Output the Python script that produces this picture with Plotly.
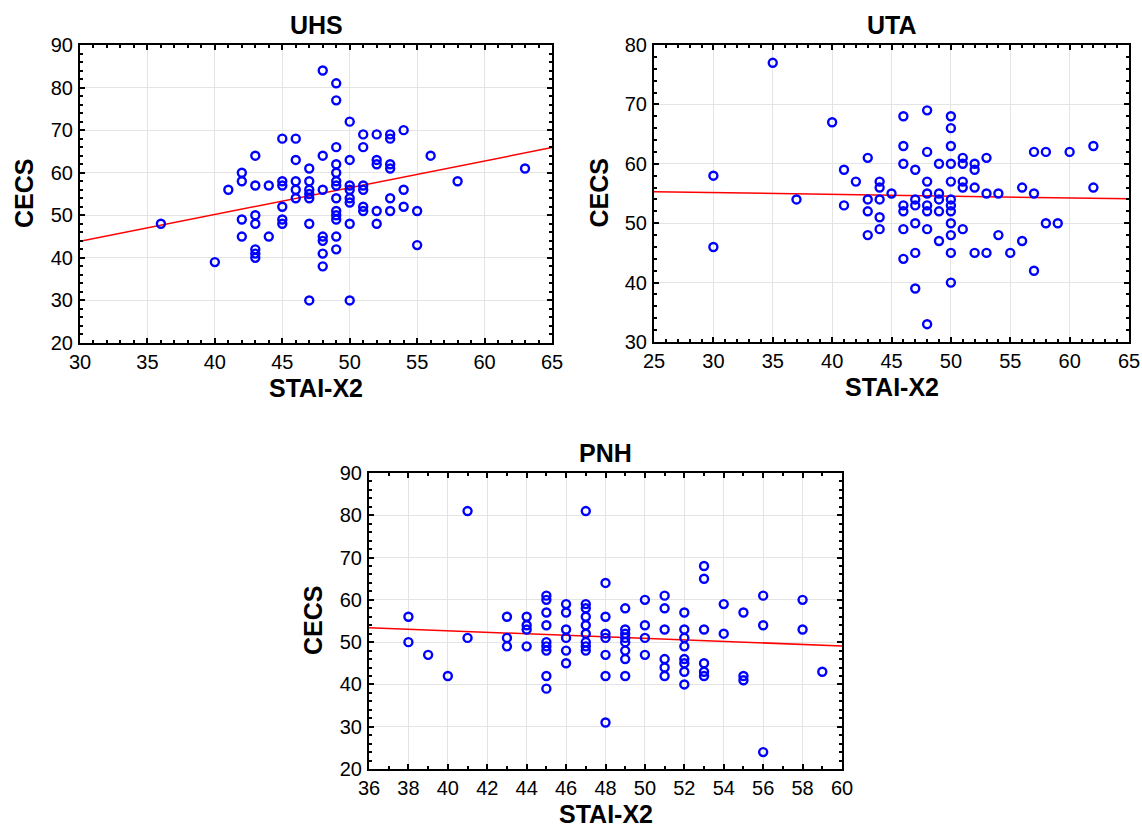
import plotly.graph_objects as go

W, H = 1142, 835

# ---------------- data ----------------
uhs_x = [36, 40, 41, 42, 42, 42, 42,
         43, 43, 43, 43, 43, 43, 43,
         44, 44,
         45, 45, 45, 45, 45, 45,
         46, 46, 46, 46, 46,
         47, 47, 47, 47, 47, 47, 47,
         48, 48, 48, 48, 48, 48, 48,
         49, 49, 49, 49, 49, 49, 49, 49, 49, 49, 49, 49, 49,
         50, 50, 50, 50, 50, 50, 50, 50,
         51, 51, 51, 51, 51, 51,
         52, 52, 52, 52, 52,
         53, 53, 53, 53, 53, 53,
         54, 54, 54,
         55, 55, 56, 58, 63]
uhs_y = [48, 39, 56, 60, 58, 49, 45,
         64, 57, 50, 48, 42, 41, 40,
         57, 45,
         68, 58, 57, 52, 49, 48,
         68, 63, 58, 56, 54,
         61, 58, 56, 55, 54, 48, 30,
         84, 64, 56, 45, 44, 41, 38,
         81, 77, 66, 62, 60, 58, 57, 54, 51, 50, 49, 45, 42,
         72, 63, 57, 56, 54, 53, 48, 30,
         69, 66, 57, 56, 52, 51,
         69, 63, 62, 51, 48,
         69, 68, 62, 61, 54, 51,
         70, 56, 52,
         51, 43, 64, 58, 61]
uhs_fit_x = [30, 65]
uhs_fit_y = [43.9, 65.9]

uta_x = [30, 30, 35, 37, 40, 41, 41, 42,
         43, 43, 43, 43,
         44, 44, 44, 44, 44,
         45,
         46, 46, 46, 46, 46, 46, 46,
         47, 47, 47, 47, 47, 47,
         48, 48, 48, 48, 48, 48, 48, 48,
         49, 49, 49, 49, 49,
         50, 50, 50, 50, 50, 50, 50, 50, 50, 50, 50, 50,
         51, 51, 51, 51, 51,
         52, 52, 52, 52,
         53, 53, 53,
         54, 54, 55, 56, 56,
         57, 57, 57, 58, 58, 59, 60, 62, 62]
uta_y = [58, 46, 77, 54, 67, 59, 53, 57,
         61, 54, 52, 48,
         57, 56, 54, 51, 49,
         55,
         68, 63, 60, 53, 52, 49, 44,
         59, 54, 53, 50, 45, 39,
         69, 62, 57, 55, 53, 52, 49, 33,
         60, 55, 54, 52, 47,
         68, 66, 63, 60, 57, 54, 53, 52, 50, 48, 45, 40,
         61, 60, 57, 56, 49,
         60, 59, 56, 45,
         61, 55, 45,
         55, 48, 45, 56, 47,
         62, 55, 42, 62, 50, 50, 62, 63, 56]
uta_fit_x = [25, 65]
uta_fit_y = [55.3, 54.1]

pnh_x = [38, 38, 39, 40, 41, 41,
         43, 43, 43,
         44, 44, 44, 44,
         45, 45, 45, 45, 45, 45, 45, 45, 45,
         46, 46, 46, 46, 46, 46,
         47, 47, 47, 47, 47, 47, 47, 47, 47,
         48, 48, 48, 48, 48, 48, 48,
         49, 49, 49, 49, 49, 49, 49, 49,
         50, 50, 50, 50,
         51, 51, 51, 51, 51, 51,
         52, 52, 52, 52, 52, 52, 52, 52,
         53, 53, 53, 53, 53, 53,
         54, 54, 55, 55, 55,
         56, 56, 56, 58, 58, 59]
pnh_y = [56, 50, 47, 42, 81, 51,
         56, 51, 49,
         56, 54, 53, 49,
         61, 60, 57, 54, 50, 49, 48, 42, 39,
         59, 57, 53, 51, 48, 45,
         81, 59, 58, 56, 54, 52, 50, 49, 48,
         64, 56, 52, 51, 47, 42, 31,
         58, 53, 52, 51, 50, 48, 46, 42,
         60, 54, 51, 47,
         61, 58, 53, 46, 44, 42,
         57, 53, 51, 49, 46, 45, 43, 40,
         68, 65, 53, 45, 43, 42,
         59, 52, 57, 42, 41,
         61, 54, 24, 60, 53, 43]
pnh_fit_x = [36, 60]
pnh_fit_y = [53.4, 49.1]

panels = [
    dict(name="UHS", x=uhs_x, y=uhs_y, fx=uhs_fit_x, fy=uhs_fit_y,
         xr=[30, 65], xd=5, xm=1, yr=[20, 90], yd=10, ym=2,
         px=(80, 552), py=(45, 343)),
    dict(name="UTA", x=uta_x, y=uta_y, fx=uta_fit_x, fy=uta_fit_y,
         xr=[25, 65], xd=5, xm=1, yr=[30, 80], yd=10, ym=2,
         px=(654, 1129), py=(45, 342)),
    dict(name="PNH", x=pnh_x, y=pnh_y, fx=pnh_fit_x, fy=pnh_fit_y,
         xr=[36, 60], xd=2, xm=1, yr=[20, 90], yd=10, ym=2,
         px=(369, 842), py=(473, 769)),
]

FONT = "Liberation Sans, Arial, sans-serif"
fig = go.Figure()
annotations = []

for i, p in enumerate(panels, start=1):
    xa = "x" if i == 1 else f"x{i}"
    ya = "y" if i == 1 else f"y{i}"
    fig.add_trace(go.Scatter(
        x=p["fx"], y=p["fy"], mode="lines", xaxis=xa, yaxis=ya,
        line=dict(color="#FF0000", width=1.5), showlegend=False))
    fig.add_trace(go.Scatter(
        x=p["x"], y=p["y"], mode="markers", xaxis=xa, yaxis=ya,
        marker=dict(symbol="circle-open", size=8, color="#0000FF",
                    line=dict(width=2.4, color="#0000FF")),
        showlegend=False, cliponaxis=False))

    x0, x1 = p["px"]
    y0, y1 = p["py"]
    dom_x = [x0 / W, x1 / W]
    dom_y = [1 - y1 / H, 1 - y0 / H]
    common = dict(showgrid=True, gridcolor="#e4e4e4", gridwidth=1,
                  showline=True, linecolor="black", linewidth=2,
                  mirror="ticks", ticks="inside", ticklen=5, tickwidth=1.5,
                  tickcolor="black", zeroline=False, automargin=False,
                  tickfont=dict(family=FONT, size=20, color="black"))
    key_x = "xaxis" if i == 1 else f"xaxis{i}"
    key_y = "yaxis" if i == 1 else f"yaxis{i}"
    fig.update_layout(**{
        key_x: dict(domain=dom_x, range=p["xr"], dtick=p["xd"], tick0=0,
                    anchor=ya, ticklabelstandoff=0,
                    minor=dict(dtick=p["xm"], ticks="inside", ticklen=3,
                               tickwidth=1.5, tickcolor="black",
                               showgrid=False), **common),
        key_y: dict(domain=dom_y, range=p["yr"], dtick=p["yd"], tick0=0,
                    anchor=xa, ticklabelstandoff=1,
                    minor=dict(dtick=p["ym"], ticks="inside", ticklen=3,
                               tickwidth=1.5, tickcolor="black",
                               showgrid=False), **common),
    })
    cx = (x0 + x1) / 2
    annotations.append(dict(text="<b>%s</b>" % p["name"], x=cx / W, y=1 - (y0 - 20) / H,
                            xref="paper", yref="paper", showarrow=False,
                            xanchor="center", yanchor="middle",
                            font=dict(family=FONT, size=25, color="black")))
    annotations.append(dict(text="<b>STAI-X2</b>", x=cx / W, y=1 - (y1 + 45) / H,
                            xref="paper", yref="paper", showarrow=False,
                            xanchor="center", yanchor="middle",
                            font=dict(family=FONT, size=25, color="black")))
    annotations.append(dict(text="<b>CECS</b>", x=(x0 - 56) / W, y=1 - ((y0 + y1) / 2) / H,
                            xref="paper", yref="paper", showarrow=False,
                            textangle=-90, xanchor="center", yanchor="middle",
                            font=dict(family=FONT, size=25, color="black")))

fig.update_layout(width=W, height=H, margin=dict(l=0, r=0, t=0, b=0),
                  paper_bgcolor="white", plot_bgcolor="white",
                  annotations=annotations, font=dict(family=FONT))

fig.write_html("out.html",
               config={"displayModeBar": False},
               post_script="document.body.style.margin='0px';"
                           "document.body.style.overflow='hidden';")
